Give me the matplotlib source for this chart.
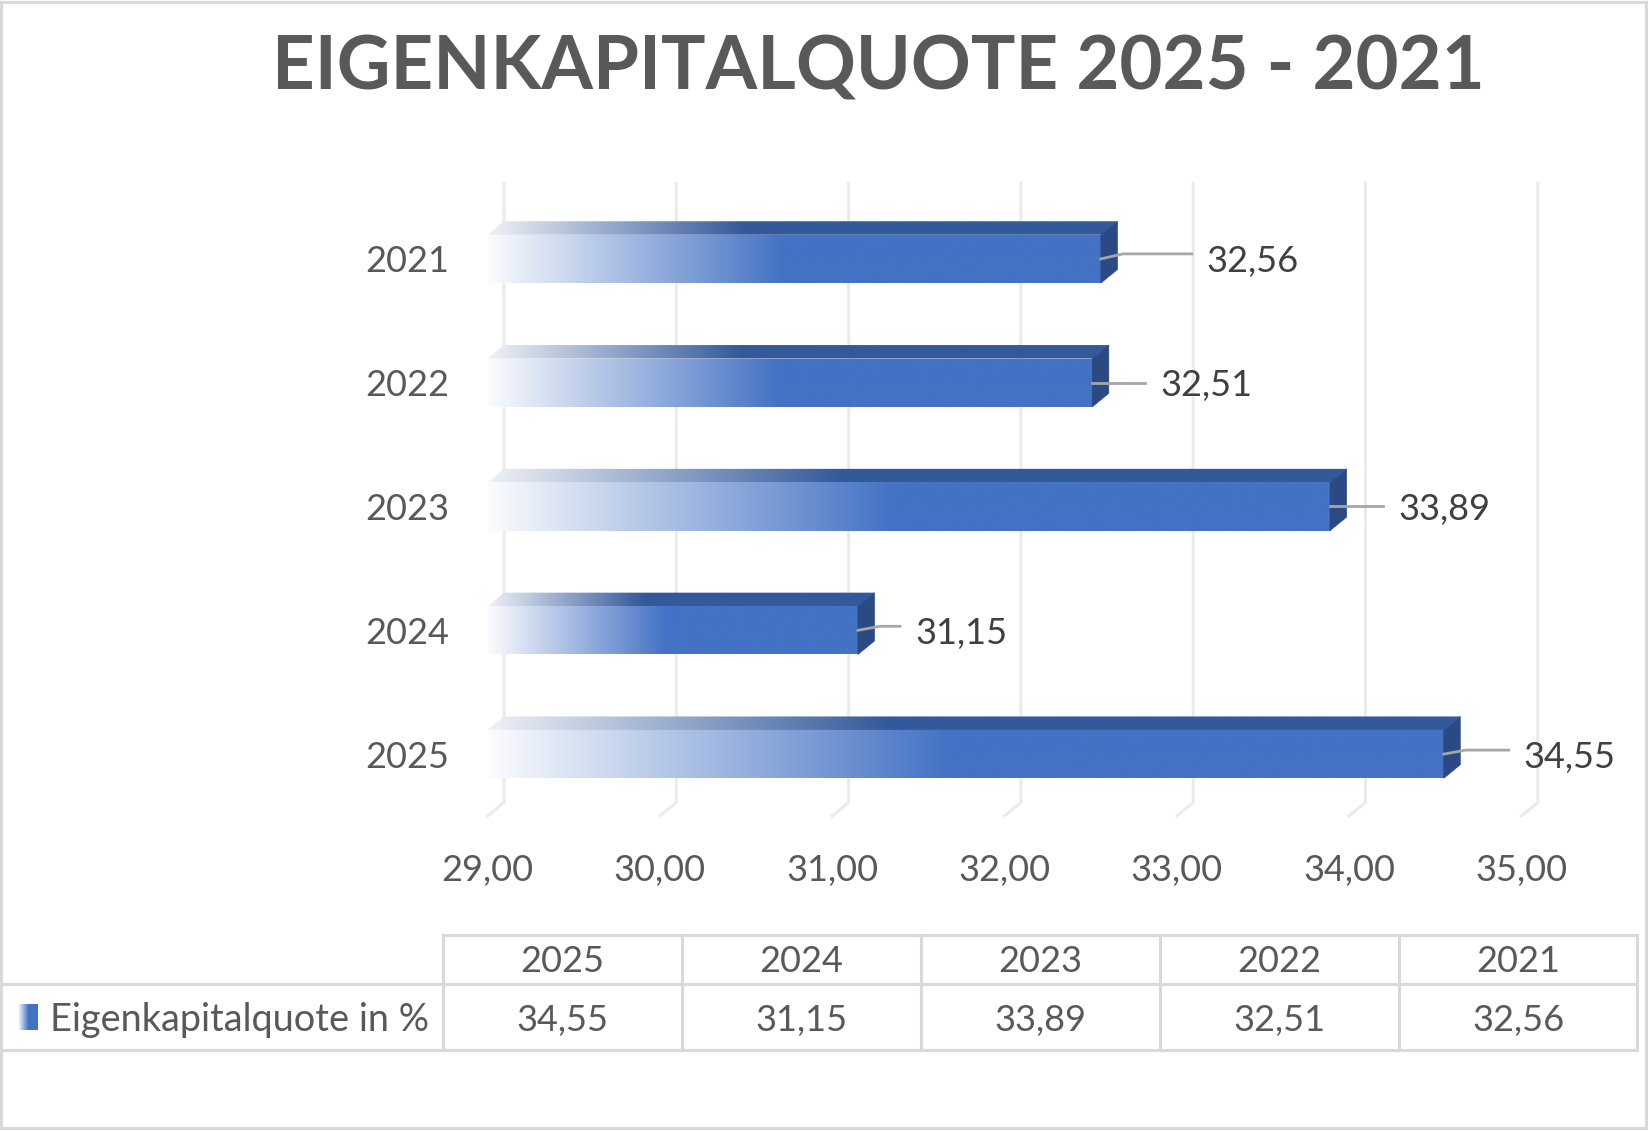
import numpy as np
import matplotlib
matplotlib.use('Agg')
import matplotlib.pyplot as plt
from matplotlib.patches import Polygon, Rectangle
from matplotlib.colors import to_rgb

# ---------------- data ----------------
title = 'EIGENKAPITALQUOTE 2025 - 2021'
years = ['2025', '2024', '2023', '2022', '2021']
values = [34.55, 31.15, 33.89, 32.51, 32.56]
series_name = 'Eigenkapitalquote in %'
x_ticks = [29, 30, 31, 32, 33, 34, 35]
x_min, x_max = 29, 35

# label placement (pixel offsets from bar end) and leader rise
label_dx_px = [80, 57, 68, 68, 106]
leader_rise_px = [4, 4, 0, 0, 5]


def de(v):
    return f'{v:.2f}'.replace('.', ',')


W, H, DPI = 1649, 1131, 100
plt.rcParams['font.family'] = ['Lato', 'DejaVu Sans']

GRID = '#EBEBEB'
TXT = '#595959'
LBL = '#404040'
FRONT = '#4472C4'
TOP = '#33599A'
SIDE = '#2B4A84'
LINE = '#D9D9D9'
LEAD = '#A6A6A6'

fig = plt.figure(figsize=(W / DPI, H / DPI), dpi=DPI)
fig.patch.set_facecolor('white')

# front plane of the 3D plot in pixels
L, R = 487.5, 1521.3
B, T = 816, 197
ax = fig.add_axes([L / W, 1 - B / H, (R - L) / W, (B - T) / H])
ax.set_xlim(x_min, x_max)
ax.set_ylim(-0.5, len(years) - 0.5)
for s in ax.spines.values():
    s.set_visible(False)
ax.patch.set_visible(False)

sx = ax.bbox.width / (x_max - x_min)          # px per unit
sy = ax.bbox.height / len(years)              # px per category
DX, DY = 16.5, 13.5
ddx, ddy = DX / sx, DY / sy

y_lo, y_hi = -0.5, len(years) - 0.5
# back wall gridlines and floor
for v in x_ticks:
    ax.plot([v, v + ddx, v + ddx], [y_lo, y_lo + ddy, y_hi + ddy], color=GRID,
            lw=2.2, zorder=1, clip_on=False, solid_joinstyle='miter')


def grad_img(x0, x1, y0, y1, color, length, clip, z, start=0.0, full=0.48):
    n = 500
    xs = np.linspace(x0, x1, n)
    t = (xs - x_min) / length
    f = np.clip(start + (1 - start) * t / full, 0, 1)
    c = np.array(to_rgb(color))
    arr = (1 - f)[:, None] * np.ones(3) + f[:, None] * c
    im = ax.imshow(arr[None, :, :], extent=(x0, x1, y0, y1), aspect='auto',
                   interpolation='bilinear', zorder=z, origin='lower')
    im.set_clip_path(clip)


h = 0.39
ypos = np.arange(len(years))
bars = ax.barh(ypos, [v - x_min for v in values], left=x_min, height=h,
               color='none', edgecolor='none', zorder=3)

for i, (v, bar) in enumerate(zip(values, bars)):
    y0, y1 = i - h / 2, i + h / 2
    length = v - x_min
    # front face gradient
    grad_img(x_min, v, y0, y1, FRONT, length, bar, 3, start=0.02)
    # top face
    top = Polygon([(x_min, y1), (v, y1), (v + ddx, y1 + ddy), (x_min + ddx, y1 + ddy)],
                  closed=True, fill=False, lw=0, zorder=3)
    ax.add_patch(top)
    grad_img(x_min, v + ddx, y1, y1 + ddy, TOP, length, top, 3, start=0.08, full=0.42)
    # side face
    side = Polygon([(v, y0), (v, y1), (v + ddx, y1 + ddy), (v + ddx, y0 + ddy)],
                   closed=True, facecolor=SIDE, edgecolor=SIDE, lw=0.5, zorder=4)
    ax.add_patch(side)
    # leader line + label
    gap = label_dx_px[i]
    rise = leader_rise_px[i] / sy
    ax.plot([v, v + 22 / sx, v + (gap - 15) / sx], [i, i + rise, i + rise],
            color=LEAD, lw=2.0, zorder=5, clip_on=False)
    ax.text(v + gap / sx, i, de(v), ha='left', va='center_baseline',
            fontsize=26, color=LBL, zorder=6, clip_on=False)

ax.set_xlim(x_min, x_max)
ax.set_ylim(y_lo, y_hi)
ax.set_yticks(ypos, years)
ax.set_xticks(x_ticks, [de(v) for v in x_ticks])
ax.tick_params(axis='y', length=0, pad=27.7, labelsize=26, labelcolor=TXT)
ax.tick_params(axis='x', length=0, pad=27.5, labelsize=26, labelcolor=TXT)

# ---------------- overlay (title, table, border) ----------------
ov = fig.add_axes([0, 0, 1, 1])
ov.set_xlim(0, W)
ov.set_ylim(H, 0)
ov.axis('off')
ov.patch.set_visible(False)

ov.add_patch(Rectangle((1.5, 1.5), W - 4.5, H - 4.5, fill=False, ec=LINE, lw=2.2))

ov.text(878, 89.5, title, ha='center', va='baseline', fontsize=53.5,
        fontweight='bold', color=TXT)

# data table
cx0, cx1 = 443, 1637.5
n = len(years)
cw = (cx1 - cx0) / n
ty0, ty1, ty2 = 935, 984, 1050
ov.plot([cx0, cx1], [ty0, ty0], color=LINE, lw=2.2)
ov.plot([2, cx1], [ty1, ty1], color=LINE, lw=2.2)
ov.plot([2, cx1], [ty2, ty2], color=LINE, lw=2.2)
for k in range(n + 1):
    ov.plot([cx0 + k * cw] * 2, [ty0, ty2], color=LINE, lw=2.2)
for k, (yr, v) in enumerate(zip(years, values)):
    xc = cx0 + (k + 0.5) * cw
    ov.text(xc, 972, yr, ha='center', va='baseline', fontsize=26, color=TXT)
    ov.text(xc, 1031, de(v), ha='center', va='baseline', fontsize=26, color=TXT)

# legend key
kx0, kx1, ky0, ky1 = 19, 38, 1004, 1030
xs = np.linspace(0, 1, 100)
f = np.clip(0.1 + 0.9 * xs / 0.5, 0, 1)
c = np.array(to_rgb(FRONT))
karr = (1 - f)[:, None] * np.ones(3) + f[:, None] * c
ov.imshow(karr[None, :, :], extent=(kx0, kx1, ky1, ky0), aspect='auto',
          interpolation='bilinear')
ov.set_xlim(0, W)
ov.set_ylim(H, 0)
ov.text(50, 1031, series_name, ha='left', va='baseline', fontsize=27.3, color=TXT)

fig.savefig('out.png', dpi=DPI)
